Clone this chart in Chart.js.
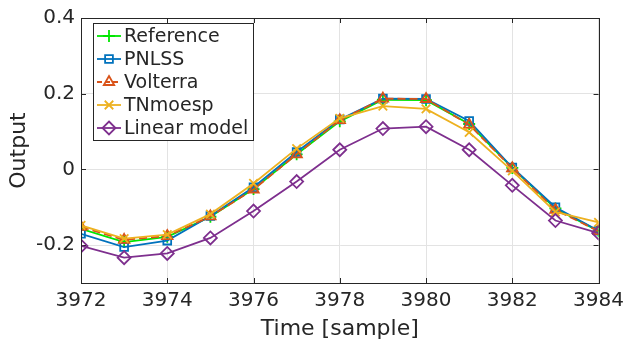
<!DOCTYPE html>
<html><head><meta charset="utf-8">
<script src="https://cdn.jsdelivr.net/npm/chart.js@4"></script>
<style>html,body{margin:0;padding:0;background:#fff}#wrap{width:630px;height:344px}</style>
</head><body><div id="wrap"><canvas id="c" width="630" height="344"></canvas></div>
<script>
const samples   = [3972, 3973, 3974, 3975, 3976, 3977, 3978, 3979, 3980, 3981, 3982, 3983, 3984];
const reference = [-0.157, -0.192, -0.178, -0.125, -0.052, 0.040, 0.127, 0.184, 0.183, 0.120, 0.004, -0.103, -0.163];
const pnlss     = [-0.170, -0.205, -0.188, -0.123, -0.047, 0.046, 0.132, 0.187, 0.186, 0.128, 0.005, -0.100, -0.162];
const volterra  = [-0.152, -0.186, -0.176, -0.124, -0.053, 0.040, 0.130, 0.187, 0.186, 0.118, 0.003, -0.107, -0.163];
const tnmoesp   = [-0.148, -0.183, -0.172, -0.118, -0.037, 0.055, 0.135, 0.167, 0.160, 0.098, -0.004, -0.112, -0.140];
const linear    = [-0.202, -0.233, -0.222, -0.181, -0.110, -0.032, 0.052, 0.108, 0.113, 0.052, -0.042, -0.135, -0.168];
const seriesNames = ['Reference', 'PNLSS', 'Volterra', 'TNmoesp', 'Linear model'];
const xTicks = [3972, 3974, 3976, 3978, 3980, 3982, 3984];
const yTicks = [-0.2, 0, 0.2, 0.4];

const FONT = 'DejaVu Sans';
const AX = '#262626';
const styles = [
  {color:'#00e600', point:'cross',    dash:[]},
  {color:'#0072BD', point:'rect',     dash:[]},
  {color:'#D95319', point:'triangle', dash:[8,4]},
  {color:'#EDB120', point:'crossRot', dash:[]},
  {color:'#7E2F8E', point:'rectRot',  dash:[]}
];
const values = [reference, pnlss, volterra, tnmoesp, linear];
const radii = [6, 5.5, 6, 6, 6.5];

const datasets = values.map((vals, i) => ({
  label: seriesNames[i],
  data: samples.map((s, k) => ({x: s, y: vals[k]})),
  borderColor: styles[i].color,
  backgroundColor: 'rgba(0,0,0,0)',
  pointBackgroundColor: 'rgba(0,0,0,0)',
  pointBorderColor: styles[i].color,
  pointStyle: styles[i].point,
  pointRadius: radii[i],
  pointBorderWidth: 1.8,
  borderWidth: 1.8,
  borderDash: styles[i].dash,
  tension: 0,
  order: 5 - i
}));

function drawMarker(ctx, style, x, y, r) {
  ctx.beginPath();
  if (style === 'cross') {
    ctx.moveTo(x - r, y); ctx.lineTo(x + r, y);
    ctx.moveTo(x, y - r); ctx.lineTo(x, y + r);
  } else if (style === 'crossRot') {
    const d = r * Math.SQRT1_2;
    ctx.moveTo(x - d, y - d); ctx.lineTo(x + d, y + d);
    ctx.moveTo(x + d, y - d); ctx.lineTo(x - d, y + d);
  } else if (style === 'rect') {
    const s = r * Math.SQRT1_2;
    ctx.rect(x - s, y - s, 2 * s, 2 * s);
  } else if (style === 'triangle') {
    ctx.moveTo(x, y - r);
    ctx.lineTo(x + r * 0.866, y + r * 0.5);
    ctx.lineTo(x - r * 0.866, y + r * 0.5);
    ctx.closePath();
  } else if (style === 'rectRot') {
    ctx.moveTo(x, y - r); ctx.lineTo(x + r, y); ctx.lineTo(x, y + r); ctx.lineTo(x - r, y);
    ctx.closePath();
  }
  ctx.stroke();
}

const framePlugin = {
  id: 'frame',
  beforeDatasetsDraw(chart) {
    const {ctx, chartArea: a, scales} = chart;
    ctx.save();
    ctx.strokeStyle = AX; ctx.lineWidth = 1;
    xTicks.forEach(v => {
      const px = Math.round(scales.x.getPixelForValue(v)) + 0.5;
      ctx.beginPath();
      ctx.moveTo(px, a.bottom); ctx.lineTo(px, a.bottom - 5);
      ctx.moveTo(px, a.top); ctx.lineTo(px, a.top + 5);
      ctx.stroke();
    });
    yTicks.forEach(v => {
      const py = Math.round(scales.y.getPixelForValue(v)) + 0.5;
      ctx.beginPath();
      ctx.moveTo(a.left, py); ctx.lineTo(a.left + 5, py);
      ctx.moveTo(a.right, py); ctx.lineTo(a.right - 5, py);
      ctx.stroke();
    });
    ctx.restore();
  },
  afterDraw(chart) {
    const {ctx, chartArea: a} = chart;
    ctx.save();
    ctx.strokeStyle = AX; ctx.lineWidth = 1;
    ctx.strokeRect(Math.round(a.left) + 0.5, Math.round(a.top) + 0.5,
                   Math.round(a.right - a.left), Math.round(a.bottom - a.top));
    const bx = 93.5, by = 23.5, bw = 160, bh = 117;
    ctx.fillStyle = '#fff';
    ctx.fillRect(bx, by, bw, bh);
    ctx.strokeStyle = AX;
    ctx.strokeRect(bx, by, bw, bh);
    ctx.font = '19px "' + FONT + '"';
    ctx.textBaseline = 'middle';
    ctx.textAlign = 'left';
    seriesNames.forEach((name, i) => {
      const cy = 36 + i * 23;
      const st = styles[i];
      ctx.strokeStyle = st.color;
      ctx.lineWidth = 1.8;
      ctx.setLineDash(st.dash.length ? [5, 3] : []);
      ctx.beginPath(); ctx.moveTo(97, cy); ctx.lineTo(121, cy); ctx.stroke();
      ctx.setLineDash([]);
      drawMarker(ctx, st.point, 109, cy, radii[i]);
      ctx.fillStyle = AX;
      ctx.fillText(name, 124, cy + 1);
    });
    ctx.restore();
  }
};

new Chart(document.getElementById('c'), {
  type: 'line',
  data: {datasets},
  options: {
    responsive: false,
    animation: false,
    devicePixelRatio: 1,
    layout: {padding: {top: 15, right: 26, left: 0, bottom: 0}},
    plugins: {legend: {display: false}, tooltip: {enabled: false}},
    scales: {
      x: {
        type: 'linear', min: 3972, max: 3984,
        afterBuildTicks: s => { s.ticks = xTicks.map(v => ({value: v})); },
        afterFit: s => { s.height = 61; },
        ticks: {font: {family: FONT, size: 20}, color: AX, padding: 6, maxRotation: 0, autoSkip: false,
                callback: v => String(v)},
        grid: {color: '#e3e3e3', drawTicks: false},
        border: {color: AX},
        title: {display: true, text: 'Time [sample]', font: {family: FONT, size: 22}, color: AX, padding: {top: 0, bottom: 2}}
      },
      y: {
        type: 'linear', min: -0.3, max: 0.4,
        afterBuildTicks: s => { s.ticks = yTicks.map(v => ({value: v})); },
        afterFit: s => { s.width = 81; },
        ticks: {font: {family: FONT, size: 20}, color: AX, padding: 6,
                callback: v => (Math.abs(v) < 1e-9 ? '0' : v.toFixed(1))},
        grid: {color: '#e3e3e3', drawTicks: false},
        border: {color: AX},
        title: {display: true, text: 'Output', font: {family: FONT, size: 22}, color: AX, padding: {top: 6, bottom: 0}}
      }
    }
  },
  plugins: [framePlugin]
});
</script>
</body></html>
